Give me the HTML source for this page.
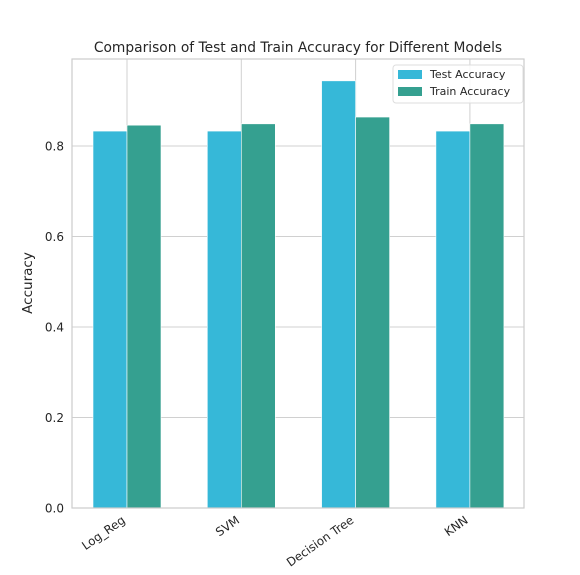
<!DOCTYPE html>
<html><head><meta charset="utf-8"><style>body{margin:0;background:#fff}svg{display:block;font-family:"DejaVu Sans","Liberation Sans",sans-serif}</style></head>
<body>
<svg id="chart" width="580" height="575">
<text x="298" y="52" text-anchor="middle" font-size="13.8" fill="#262626">Comparison of Test and Train Accuracy for Different Models</text>
<text transform="translate(32,283) rotate(-90)" text-anchor="middle" font-size="13.5" fill="#262626">Accuracy</text>
<g id="grid"></g><g id="bars"></g><g id="ticks"></g>
<rect x="72" y="59" width="452" height="449" fill="none" stroke="#ccc" stroke-width="1.2"/>
<g>
<rect x="393" y="65" width="130" height="38" rx="3" fill="#fff" fill-opacity="0.85" stroke="#ddd"/>
<rect x="398" y="70" width="24" height="9" fill="#36b8d8"/>
<text x="430" y="78" font-size="11" fill="#262626">Test Accuracy</text>
<rect x="398" y="87" width="24" height="9" fill="#35a090"/>
<text x="430" y="95" font-size="11" fill="#262626">Train Accuracy</text>
</g>
</svg>
<script>
const categories=["Log_Reg","SVM","Decision Tree","KNN"];
const testAcc=[0.833,0.833,0.944,0.833];
const trainAcc=[0.846,0.849,0.864,0.849];
const yTicks=[0,0.2,0.4,0.6,0.8];
const yTickLabels=["0.0","0.2","0.4","0.6","0.8"];
const NS="http://www.w3.org/2000/svg";
const L=72,R=524,T=59,B=508;
const x=i=>127+i*114.3;
const y=v=>B-v*452.5;
const bw=34;
function mk(tag,attrs,parent){const e=document.createElementNS(NS,tag);for(const k in attrs)e.setAttribute(k,attrs[k]);document.getElementById(parent).appendChild(e);return e;}
yTicks.forEach((t,i)=>{
 const g=mk('line',{x1:L,x2:R,y1:y(t),y2:y(t),stroke:'#d0d0d0','stroke-width':1},'grid');
 
 
 const tx=mk('text',{x:L-8,y:y(t)+4.5,'text-anchor':'end','font-size':12,fill:'#262626'},'ticks');
 tx.textContent=yTickLabels[i];
 
 
});
categories.forEach((c,i)=>{
 const g=mk('line',{x1:x(i),x2:x(i),y1:T,y2:B,stroke:'#d0d0d0','stroke-width':1},'grid');
 
 
 const b1=mk('rect',{x:x(i)-bw,y:y(testAcc[i]),width:bw,height:B-y(testAcc[i]),fill:'#36b8d8',stroke:'#fff','stroke-width':0.6},'bars');
 
 
 const b2=mk('rect',{x:x(i),y:y(trainAcc[i]),width:bw,height:B-y(trainAcc[i]),fill:'#35a090',stroke:'#fff','stroke-width':0.6},'bars');
 
 
 const tx=mk('text',{transform:`translate(${x(i)-1},${B+14}) rotate(-35)`,'text-anchor':'end','font-size':11.8,fill:'#262626'},'ticks');
 tx.textContent=c;
 
 
});
</script>
</body></html>
